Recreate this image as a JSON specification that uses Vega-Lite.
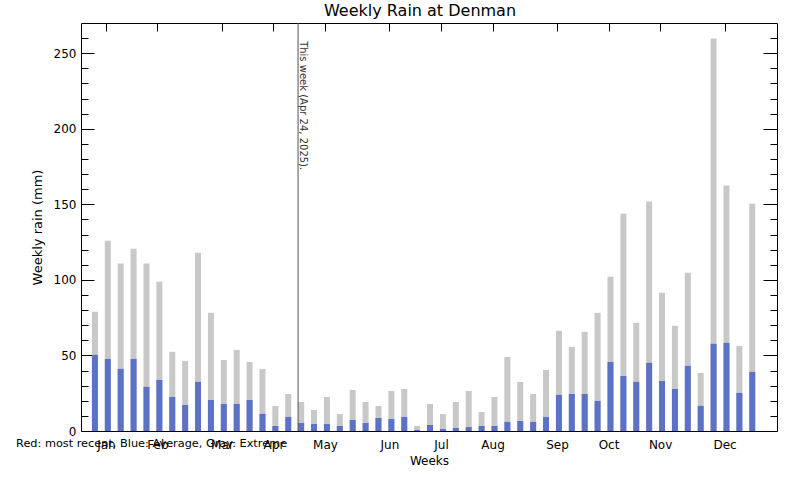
{
  "$schema": "https://vega.github.io/schema/vega-lite/v6.json",
  "width": 696,
  "height": 408,
  "autosize": "none",
  "padding": {"left": 81, "top": 23, "right": 23, "bottom": 49},
  "background": "white",
  "config": {
    "font": "DejaVu Sans",
    "view": {"stroke": null},
    "scale": {"continuousPadding": 0},
    "axis": {"grid": false, "domainColor": "black", "tickColor": "black", "labelColor": "black", "titleColor": "black", "titleFontWeight": "normal", "labelFont": "DejaVu Sans", "titleFont": "DejaVu Sans"}
  },
  "title": {"text": "Weekly Rain at Denman", "fontSize": 16, "fontWeight": "normal", "font": "DejaVu Sans", "color": "black", "offset": 4, "dx": -9},
  "datasets": {
    "rain": [
      {"week": 1, "avg": 50.4, "extreme": 78.9},
      {"week": 2, "avg": 47.7, "extreme": 125.9},
      {"week": 3, "avg": 41.1, "extreme": 110.9},
      {"week": 4, "avg": 47.7, "extreme": 120.6},
      {"week": 5, "avg": 29.2, "extreme": 110.9},
      {"week": 6, "avg": 33.8, "extreme": 98.7},
      {"week": 7, "avg": 22.5, "extreme": 52.4},
      {"week": 8, "avg": 17.2, "extreme": 46.4},
      {"week": 9, "avg": 32.5, "extreme": 118},
      {"week": 10, "avg": 20.5, "extreme": 78.2},
      {"week": 11, "avg": 17.9, "extreme": 47},
      {"week": 12, "avg": 17.9, "extreme": 53.7},
      {"week": 13, "avg": 20.5, "extreme": 45.7},
      {"week": 14, "avg": 11.3, "extreme": 41.1},
      {"week": 15, "avg": 3.3, "extreme": 16.6},
      {"week": 16, "avg": 9.3, "extreme": 24.5},
      {"week": 17, "avg": 5.3, "extreme": 19.2},
      {"week": 18, "avg": 4.6, "extreme": 13.9},
      {"week": 19, "avg": 4.6, "extreme": 22.5},
      {"week": 20, "avg": 3.3, "extreme": 11.3},
      {"week": 21, "avg": 7.3, "extreme": 27.2},
      {"week": 22, "avg": 5.3, "extreme": 19.2},
      {"week": 23, "avg": 8.6, "extreme": 16.6},
      {"week": 24, "avg": 7.9, "extreme": 26.5},
      {"week": 25, "avg": 9.3, "extreme": 27.8},
      {"week": 26, "avg": 0.7, "extreme": 3.3},
      {"week": 27, "avg": 4.0, "extreme": 17.9},
      {"week": 28, "avg": 1.3, "extreme": 11.3},
      {"week": 29, "avg": 2.0, "extreme": 19.2},
      {"week": 30, "avg": 2.6, "extreme": 26.5},
      {"week": 31, "avg": 3.3, "extreme": 12.6},
      {"week": 32, "avg": 3.3, "extreme": 22.5},
      {"week": 33, "avg": 6.0, "extreme": 49},
      {"week": 34, "avg": 6.6, "extreme": 32.5},
      {"week": 35, "avg": 6.0, "extreme": 24.5},
      {"week": 36, "avg": 9.3, "extreme": 40.4},
      {"week": 37, "avg": 23.9, "extreme": 66.3},
      {"week": 38, "avg": 24.5, "extreme": 55.7},
      {"week": 39, "avg": 24.5, "extreme": 65.6},
      {"week": 40, "avg": 19.9, "extreme": 78.2},
      {"week": 41, "avg": 45.7, "extreme": 102},
      {"week": 42, "avg": 36.4, "extreme": 143.8},
      {"week": 43, "avg": 32.5, "extreme": 71.6},
      {"week": 44, "avg": 45.1, "extreme": 151.8},
      {"week": 45, "avg": 33.1, "extreme": 91.5},
      {"week": 46, "avg": 27.8, "extreme": 69.6},
      {"week": 47, "avg": 43.1, "extreme": 104.7},
      {"week": 48, "avg": 16.6, "extreme": 38.4},
      {"week": 49, "avg": 57.7, "extreme": 259.8},
      {"week": 50, "avg": 58.3, "extreme": 162.4},
      {"week": 51, "avg": 25.2, "extreme": 56.3},
      {"week": 52, "avg": 39.1, "extreme": 150.4}
    ],
    "now": [
      {"week": 16.76, "ypos": 258, "label": "This week (Apr 24, 2025)."}
    ],
    "note": [
      {"week": -5.12, "ypos": -10.6, "label": "Red: most recent, Blue: Average, Gray: Extreme"}
    ]
  },
  "resolve": {"axis": {"x": "independent", "y": "independent"}},
  "layer": [
    {
      "data": {"name": "rain"},
      "mark": {"type": "bar", "size": 6, "color": "#C8C8C8"},
      "encoding": {
        "x": {
          "field": "week", "type": "quantitative",
          "scale": {"domain": [-0.08, 53.92], "nice": false, "zero": false, "padding": 0},
          "axis": {
            "orient": "bottom",
            "values": [1.85, 5.85, 10.85, 14.85, 18.85, 23.85, 27.85, 31.85, 36.85, 40.85, 44.85, 49.85],
            "labelExpr": "datum.value < 3 ? 'Jan' : datum.value < 8 ? 'Feb' : datum.value < 12 ? 'Mar' : datum.value < 16 ? 'Apr' : datum.value < 20 ? 'May' : datum.value < 25 ? 'Jun' : datum.value < 29 ? 'Jul' : datum.value < 33 ? 'Aug' : datum.value < 38 ? 'Sep' : datum.value < 42 ? 'Oct' : datum.value < 46 ? 'Nov' : 'Dec'",
            "tickSize": -9,
            "labelPadding": 17,
            "labelFontSize": 12,
            "labelFlush": false,
            "labelOverlap": false,
            "title": "Weeks",
            "titleFontSize": 12,
            "titlePadding": 5
          }
        },
        "y": {
          "field": "extreme", "type": "quantitative",
          "scale": {"domain": [0, 270], "nice": false, "zero": true, "padding": 0},
          "axis": {
            "orient": "left",
            "values": [0, 10, 20, 30, 40, 50, 60, 70, 80, 90, 100, 110, 120, 130, 140, 150, 160, 170, 180, 190, 200, 210, 220, 230, 240, 250, 260],
            "tickSize": {"condition": {"test": "datum.value % 50 === 0", "value": -13}, "value": -7},
            "labelExpr": "datum.value % 50 === 0 ? datum.label : ''",
            "labelPadding": 18,
            "labelFontSize": 12,
            "labelOverlap": false,
            "title": "Weekly rain (mm)",
            "titleFontSize": 13,
            "titlePadding": 9
          }
        }
      }
    },
    {
      "data": {"name": "rain"},
      "mark": {"type": "bar", "size": 6, "color": "#5B72C6"},
      "encoding": {
        "x": {
          "field": "week", "type": "quantitative",
          "axis": {
            "orient": "top",
            "values": [1.85, 5.85, 10.85, 14.85, 18.85, 23.85, 27.85, 31.85, 36.85, 40.85, 44.85, 49.85],
            "labels": false,
            "tickSize": -8,
            "title": null
          }
        },
        "y": {
          "field": "avg", "type": "quantitative",
          "axis": {
            "orient": "right",
            "values": [0, 10, 20, 30, 40, 50, 60, 70, 80, 90, 100, 110, 120, 130, 140, 150, 160, 170, 180, 190, 200, 210, 220, 230, 240, 250, 260],
            "tickSize": {"condition": {"test": "datum.value % 50 === 0", "value": -14}, "value": -7},
            "labels": false,
            "title": null
          }
        }
      }
    },
    {
      "data": {"name": "now"},
      "mark": {"type": "rule", "color": "#555555", "strokeWidth": 1},
      "encoding": {
        "x": {"field": "week", "type": "quantitative", "axis": null}
      }
    },
    {
      "data": {"name": "now"},
      "mark": {"type": "text", "angle": 90, "align": "left", "baseline": "bottom", "fontSize": 10, "color": "#333333", "font": "DejaVu Sans"},
      "encoding": {
        "x": {"field": "week", "type": "quantitative", "axis": null},
        "y": {"field": "ypos", "type": "quantitative", "axis": null},
        "text": {"field": "label"}
      }
    },
    {
      "data": {"name": "note"},
      "mark": {"type": "text", "align": "left", "baseline": "alphabetic", "fontSize": 11.3, "color": "black", "font": "DejaVu Sans"},
      "encoding": {
        "x": {"field": "week", "type": "quantitative", "axis": null},
        "y": {"field": "ypos", "type": "quantitative", "axis": null},
        "text": {"field": "label"}
      }
    }
  ]
}
